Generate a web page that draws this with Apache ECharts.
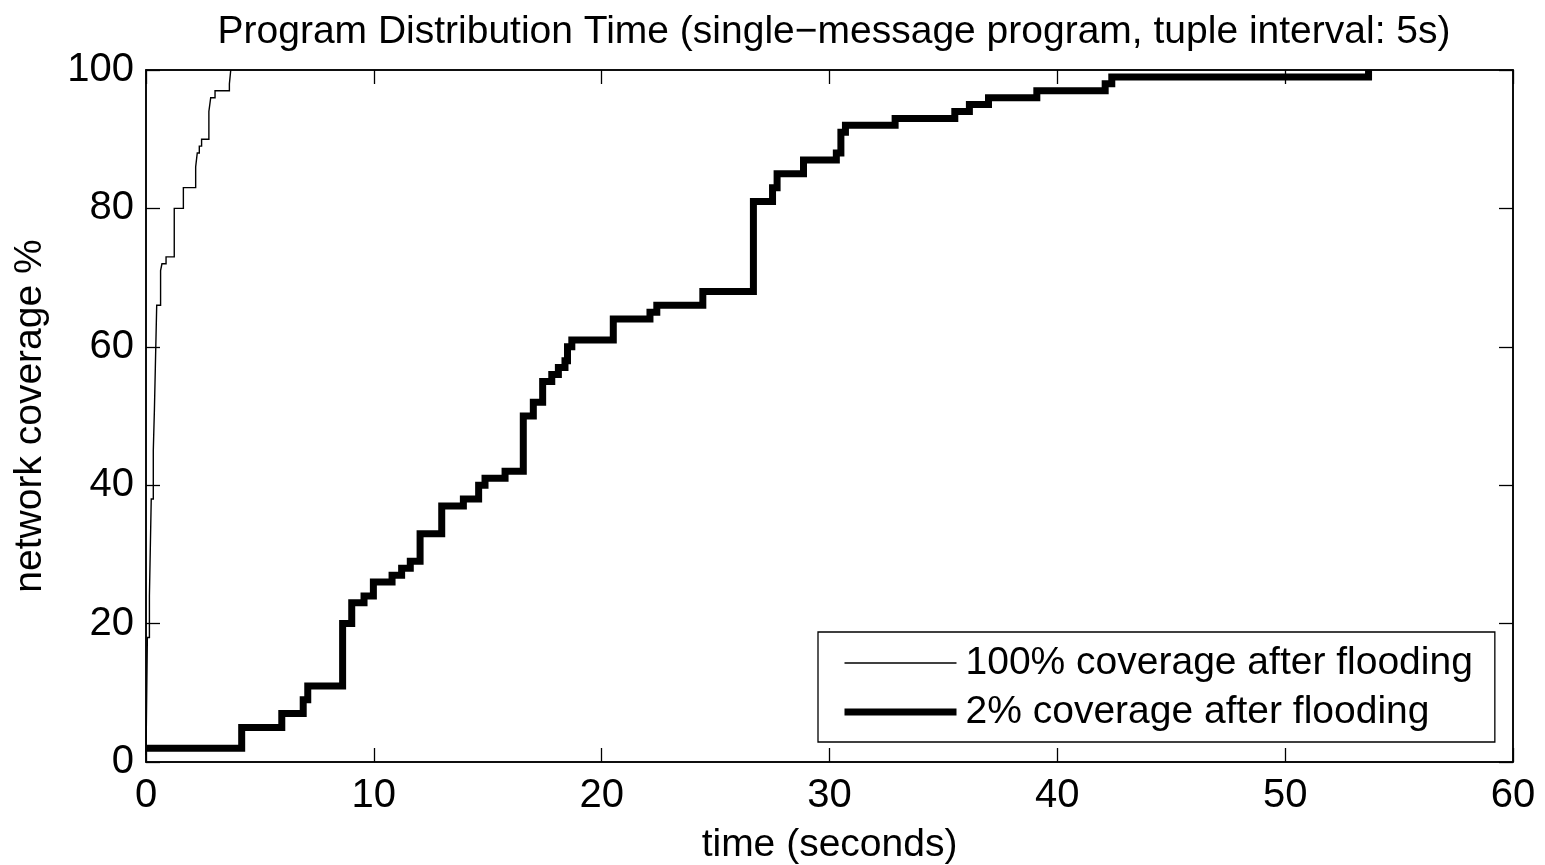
<!DOCTYPE html>
<html>
<head>
<meta charset="utf-8">
<script src="https://cdn.jsdelivr.net/npm/echarts@6/dist/echarts.min.js"></script>
<style>
html,body{margin:0;padding:0;background:#fff;}
#chart{width:1545px;height:865px;}
</style>
</head>
<body>
<div id="chart"></div>
<script>
// Data (x = seconds, y = coverage %), stair steps
const titleText = 'Program Distribution Time (single\u2212message program, tuple interval: 5s)';
const xTicks = [0, 10, 20, 30, 40, 50, 60];
const yTicks = [0, 20, 40, 60, 80, 100];
const seriesNames = ['100% coverage after flooding', '2% coverage after flooding'];
const fullFloodX = [0, 0.06, 0.15, 0.23, 0.32, 0.37, 0.41, 0.47, 0.64, 0.70, 0.88, 1.24, 1.64, 2.18, 2.25, 2.34, 2.44, 2.76, 2.84, 3.03, 3.66, 3.72];
const fullFloodY = [1, 18, 24, 38, 45, 51, 57, 66, 71, 72, 73, 80, 83, 86, 88, 89, 90, 94, 96, 97, 98, 100];
const partFloodX = [0, 4.2, 5.96, 6.9, 7.1, 8.63, 9.03, 9.57, 9.98, 10.8, 11.22, 11.6, 12.03, 12.98, 13.93, 14.6, 14.88, 15.76, 16.56, 17.0, 17.41, 17.81, 18.1, 18.39, 18.5, 18.69, 20.51, 22.12, 22.42, 24.44, 26.66, 27.5, 27.7, 28.86, 30.3, 30.5, 30.7, 32.88, 35.5, 36.14, 36.98, 39.1, 42.1, 42.39, 53.66];
const partFloodY = [2, 5, 7, 9, 11, 20, 23, 24, 26, 27, 28, 29, 33, 37, 38, 40, 41, 42, 50, 52, 55, 56, 57, 58, 60, 61, 64, 65, 66, 68, 81, 83, 85, 87, 88, 91, 92, 93, 94, 95, 96, 97, 98, 99, 100];

const zip = (xs, ys) => xs.map((x, i) => [x, ys[i]]);
const font = '"Liberation Sans", Arial, Helvetica, sans-serif';
const chart = echarts.init(document.getElementById('chart'), null, {renderer: 'canvas'});

const axisCommon = {
  show: true,
  axisLine: {show: true, onZero: false, lineStyle: {color: '#000', width: 1.5}},
  axisTick: {show: true, inside: true, length: 14, lineStyle: {color: '#000', width: 1.3}},
  splitLine: {show: false},
  axisLabel: {color: '#000', fontSize: 40, fontFamily: font}
};
const lineWidths = [1.4, 7];

chart.setOption({
  backgroundColor: '#fff',
  animation: false,
  title: {
    text: titleText,
    left: 829,
    textAlign: 'center',
    top: 8,
    textStyle: {color: '#000', fontSize: 39, fontWeight: 'normal', fontFamily: font}
  },
  grid: {left: 146, right: 32, top: 70, bottom: 103, containLabel: false, outerBoundsMode: 'none',
    show: true, borderColor: '#000', borderWidth: 1.5, backgroundColor: 'transparent'},
  legend: {
    orient: 'vertical',
    left: 818,
    top: 632,
    backgroundColor: '#fff',
    borderColor: '#000',
    borderWidth: 1.3,
    padding: [11, 22, 10, 23],
    itemWidth: 112,
    itemHeight: 40,
    itemGap: 9,
    selectedMode: false,
    textStyle: {color: '#000', fontSize: 39, lineHeight: 40, fontFamily: font, padding: [0, 0, 0, 4]},
    data: seriesNames.map((n, i) => ({
      name: n,
      itemStyle: {opacity: 0},
      lineStyle: {color: '#000', width: lineWidths[i], cap: 'butt', opacity: 1}
    }))
  },
  xAxis: [
    Object.assign({}, axisCommon, {
      type: 'value', min: 0, max: 60, interval: 10, position: 'bottom',
      name: 'time (seconds)', nameLocation: 'middle', nameGap: 64,
      nameTextStyle: {color: '#000', fontSize: 39, fontFamily: font},
      axisLabel: Object.assign({}, axisCommon.axisLabel, {margin: 14,
        formatter: v => xTicks.includes(v) ? String(v) : ''})
    }),
    Object.assign({}, axisCommon, {
      type: 'value', min: 0, max: 60, interval: 10, position: 'top',
      axisLabel: {show: false}
    })
  ],
  yAxis: [
    Object.assign({}, axisCommon, {
      type: 'value', min: 0, max: 100, interval: 20, position: 'left',
      name: 'network coverage %', nameLocation: 'middle', nameGap: 96, nameRotate: 90,
      nameTextStyle: {color: '#000', fontSize: 39, fontFamily: font},
      axisLabel: Object.assign({}, axisCommon.axisLabel, {margin: 12,
        formatter: v => yTicks.includes(v) ? String(v) : ''})
    }),
    Object.assign({}, axisCommon, {
      type: 'value', min: 0, max: 100, interval: 20, position: 'right',
      axisLabel: {show: false}
    })
  ],
  series: [
    {
      name: seriesNames[0], type: 'line', step: 'end', showSymbol: false, symbol: 'none',
      xAxisIndex: 0, yAxisIndex: 0,
      lineStyle: {color: '#000', width: lineWidths[0], join: 'miter', cap: 'butt'}, itemStyle: {color: '#000'},
      data: zip(fullFloodX, fullFloodY), z: 3
    },
    {
      name: seriesNames[1], type: 'line', step: 'end', showSymbol: false, symbol: 'none',
      xAxisIndex: 0, yAxisIndex: 0,
      lineStyle: {color: '#000', width: lineWidths[1], join: 'miter', cap: 'butt'}, itemStyle: {color: '#000'},
      data: zip(partFloodX, partFloodY), z: 2
    },
    {
      name: 'frame', type: 'line', xAxisIndex: 1, yAxisIndex: 1, silent: true,
      showSymbol: false, symbol: 'none', lineStyle: {opacity: 0}, tooltip: {show: false},
      data: [[0, 0], [60, 100]]
    }
  ]
});
</script>
</body>
</html>
